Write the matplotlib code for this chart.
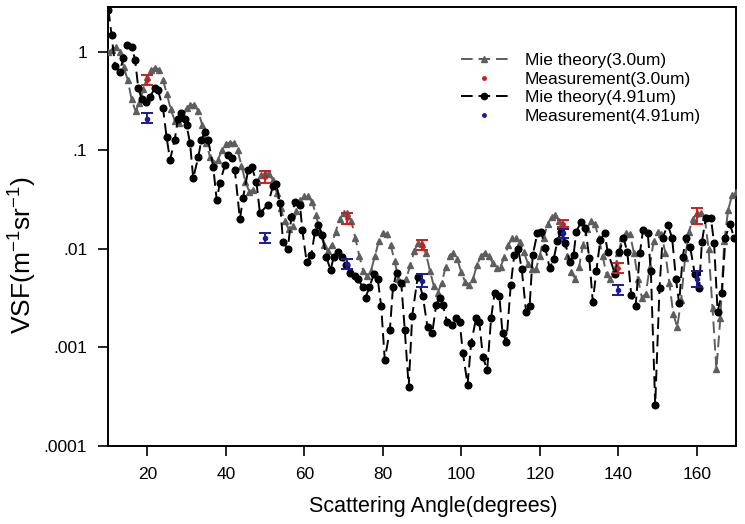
import matplotlib
matplotlib.use("Agg")
import matplotlib.pyplot as plt
from matplotlib.lines import Line2D
from matplotlib.ticker import FixedLocator, NullLocator

plt.rcParams["font.family"] = ["Liberation Sans", "DejaVu Sans"]
plt.rcParams["mathtext.fontset"] = "custom"
plt.rcParams["mathtext.rm"] = "Liberation Sans"
plt.rcParams["mathtext.default"] = "regular"

# Mie theory, 3.0 um (grey triangles)
angle_30 = list(range(10, 171))
mie_30 = [
    1.0, 1.05, 1.12, 1.0, 0.7, 0.52, 0.33, 0.25, 0.3, 0.42,
    0.55, 0.65, 0.69, 0.66, 0.52, 0.37, 0.26, 0.2, 0.19, 0.22,
    0.27, 0.29, 0.29, 0.25, 0.18, 0.12, 0.085, 0.075, 0.08, 0.1,
    0.115, 0.12, 0.118, 0.1, 0.07, 0.048, 0.038, 0.04, 0.048, 0.056,
    0.059, 0.058, 0.05, 0.037, 0.026, 0.019, 0.016, 0.017, 0.024, 0.031,
    0.034, 0.034, 0.03, 0.022, 0.015, 0.011, 0.0095, 0.011, 0.015, 0.02,
    0.023, 0.023, 0.019, 0.013, 0.0085, 0.006, 0.0053, 0.006, 0.0085, 0.012,
    0.0145, 0.014, 0.011, 0.0075, 0.005, 0.0045, 0.005, 0.0068, 0.0095, 0.0115,
    0.0112, 0.009, 0.006, 0.0042, 0.0036, 0.0045, 0.0065, 0.0085, 0.009, 0.0078,
    0.0058, 0.0046, 0.0043, 0.005, 0.0068, 0.0085, 0.0091, 0.0085, 0.0072, 0.0064,
    0.0066, 0.0082, 0.011, 0.0128, 0.013, 0.0118, 0.0092, 0.007, 0.0062, 0.0062,
    0.0085, 0.013, 0.018, 0.021, 0.022, 0.019, 0.013, 0.0085, 0.0058, 0.005,
    0.0065, 0.011, 0.016, 0.019, 0.018, 0.013, 0.0085, 0.0055, 0.0049, 0.006,
    0.009, 0.013, 0.0145, 0.014, 0.009, 0.005, 0.0032, 0.0035, 0.0065, 0.012,
    0.0148, 0.014, 0.009, 0.0045, 0.0022, 0.0016, 0.003, 0.008, 0.015, 0.02,
    0.023, 0.023, 0.021, 0.01, 0.0025, 0.0006, 0.002, 0.012, 0.025, 0.035,
    0.038,
]

# Mie theory, 4.91 um (black circles)
angle_491 = [
    10.1, 10.9, 11.8, 13.0, 13.9, 14.8, 16.0, 16.9, 17.7, 18.6,
    19.7, 20.7, 22.0, 22.7, 24.0, 24.9, 25.8, 27.0, 27.8, 28.7,
    29.6, 30.0, 30.9, 31.7, 33.0, 33.8, 34.7, 35.5, 36.8, 37.7,
    38.5, 39.8, 40.6, 41.5, 42.3, 43.6, 44.4, 45.7, 46.6, 47.8,
    48.7, 50.7, 52.0, 52.9, 53.8, 54.6, 55.8, 56.7, 57.6, 58.9,
    59.5, 60.6, 61.8, 62.7, 63.5, 64.6, 65.6, 66.7, 67.5, 68.5,
    69.7, 70.7, 71.6, 72.8, 73.6, 74.9, 75.6, 76.6, 77.7, 78.7,
    79.6, 80.5, 81.8, 82.6, 83.5, 84.7, 85.6, 86.6, 87.5, 88.9,
    90.2, 91.4, 92.6, 93.6, 94.5, 95.3, 96.4, 97.6, 98.7, 99.6,
    100.4, 101.6, 102.5, 103.8, 104.6, 105.5, 106.6, 107.6, 108.5, 109.7,
    110.5, 111.5, 112.6, 113.5, 114.5, 115.4, 116.5, 117.4, 118.2, 119.4,
    120.3, 121.4, 122.5, 123.5, 124.5, 125.3, 126.5, 127.6, 128.6, 129.3,
    130.5, 131.6, 132.6, 133.5, 134.4, 135.4, 136.5, 137.3, 139.2, 140.3,
    141.3, 142.3, 143.3, 144.4, 145.5, 146.3, 147.5, 148.3, 149.4, 150.5,
    151.3, 152.6, 153.7, 154.7, 155.5, 156.4, 157.3, 158.3, 159.5, 160.6,
    161.3, 162.3, 163.6, 164.4, 165.3, 166.4, 167.3, 168.4, 169.5,
]
mie_491 = [
    2.67, 1.49, 0.71, 0.63, 0.86, 1.18, 1.13, 0.83, 0.43, 0.33,
    0.31, 0.35, 0.43, 0.41, 0.27, 0.138, 0.08, 0.128, 0.21, 0.24,
    0.21, 0.18, 0.118, 0.052, 0.086, 0.128, 0.155, 0.128, 0.068, 0.031,
    0.047, 0.071, 0.09, 0.084, 0.063, 0.02, 0.033, 0.063, 0.068, 0.048,
    0.023, 0.028, 0.043, 0.045, 0.029, 0.0118, 0.010, 0.021, 0.030, 0.028,
    0.0155, 0.0074, 0.0087, 0.0148, 0.0175, 0.0138, 0.0083, 0.0061, 0.0083, 0.0093,
    0.0083, 0.0069, 0.0057, 0.0053, 0.0050, 0.0041, 0.0032, 0.0041, 0.0055, 0.0050,
    0.0026, 0.00075, 0.0015, 0.0041, 0.0057, 0.0045, 0.0015, 0.0004, 0.0021, 0.0052,
    0.0033, 0.0016, 0.0014, 0.0027, 0.0032, 0.0027, 0.0018, 0.0017, 0.0020, 0.0018,
    0.00088, 0.00042, 0.0011, 0.0020, 0.0018, 0.0008, 0.00059, 0.0020, 0.0036, 0.0033,
    0.0014, 0.00114, 0.0043, 0.0087, 0.010, 0.0062, 0.0023, 0.0026, 0.0087, 0.0145,
    0.015, 0.0102, 0.0064, 0.0078, 0.012, 0.015, 0.0115, 0.0074, 0.0087, 0.015,
    0.0187, 0.0163, 0.0081, 0.0029, 0.0059, 0.0123, 0.0145, 0.0093, 0.0055, 0.0093,
    0.013, 0.0093, 0.0034, 0.0026, 0.0091, 0.0155, 0.0145, 0.0059, 0.00026, 0.004,
    0.013, 0.0175, 0.013, 0.0049, 0.0028, 0.0083, 0.013, 0.0105, 0.0055, 0.004,
    0.0118, 0.0205, 0.0205, 0.0114, 0.0023, 0.0036, 0.013, 0.018, 0.013,
]

# Measurements with error bars
meas_angle = [20, 50, 71, 90, 126, 140, 160]
meas_30 = [0.52, 0.054, 0.0206, 0.011, 0.018, 0.0064, 0.022]
meas_30_lo = [0.46, 0.047, 0.018, 0.0098, 0.0168, 0.0057, 0.018]
meas_30_hi = [0.58, 0.061, 0.023, 0.0123, 0.0197, 0.0072, 0.026]
meas_491 = [0.21, 0.013, 0.0070, 0.0047, 0.0145, 0.0038, 0.0049]
meas_491_lo = [0.19, 0.0114, 0.0063, 0.0041, 0.0129, 0.0034, 0.0041]
meas_491_hi = [0.24, 0.0146, 0.0078, 0.0055, 0.0159, 0.0043, 0.0059]

y_ticks = [1, 0.1, 0.01, 0.001, 0.0001]
y_labels = ["1", ".1", ".01", ".001", ".0001"]
x_ticks = [20, 40, 60, 80, 100, 120, 140, 160]

GREY = "#5e5e5e"
RED = "#c8201e"
BLUE = "#1a1a9a"

fig = plt.figure(figsize=(7.45, 5.24), dpi=100)
ax = fig.add_axes([0.145, 0.149, 0.843, 0.838])

dash = (0, (6, 3))
ax.plot(angle_30, mie_30, color=GREY, linestyle=dash, linewidth=1.4,
        marker="^", markersize=4.5, zorder=3)
ax.errorbar(meas_angle, meas_30,
            yerr=[[m - lo for m, lo in zip(meas_30, meas_30_lo)],
                  [hi - m for m, hi in zip(meas_30, meas_30_hi)]],
            fmt="o", color=RED, markersize=2.5, capsize=4, elinewidth=1.4,
            capthick=1.4, zorder=5)
ax.plot(angle_491, mie_491, color="black", linestyle=dash, linewidth=1.4,
        marker="o", markersize=4.8, zorder=4)
ax.errorbar(meas_angle, meas_491,
            yerr=[[m - lo for m, lo in zip(meas_491, meas_491_lo)],
                  [hi - m for m, hi in zip(meas_491, meas_491_hi)]],
            fmt="o", color=BLUE, markersize=3, capsize=4, elinewidth=1.4,
            capthick=1.4, zorder=6)

ax.set_yscale("log")
ax.set_xlim(10, 170)
ax.set_ylim(0.0001, 2.86)
ax.yaxis.set_major_locator(FixedLocator(y_ticks))
ax.yaxis.set_minor_locator(NullLocator())
ax.set_yticklabels(y_labels)
ax.set_xticks(x_ticks)
ax.tick_params(axis="both", direction="out", length=7, width=1.2, labelsize=12.5, pad=8)
for spine in ax.spines.values():
    spine.set_linewidth(1.4)

ax.set_xlabel("Scattering Angle(degrees)", fontsize=15.5)
ax.xaxis.set_label_coords(0.518, -0.115)
ax.set_ylabel("VSF(m$^{-1}$sr$^{-1}$)", fontsize=19)
ax.yaxis.set_label_coords(-0.11, 0.433)

legend_handles = [
    Line2D([], [], color=GREY, linestyle=dash, linewidth=1.4, marker="^", markersize=4.5),
    Line2D([], [], color=RED, linestyle="none", marker="o", markersize=2.5),
    Line2D([], [], color="black", linestyle=dash, linewidth=1.4, marker="o", markersize=4.5),
    Line2D([], [], color=BLUE, linestyle="none", marker="o", markersize=2.5),
]
legend_labels = ["Mie theory(3.0um)", "Measurement(3.0um)",
                 "Mie theory(4.91um)", "Measurement(4.91um)"]
ax.legend(legend_handles, legend_labels, loc="upper left",
          bbox_to_anchor=(0.548, 0.915), frameon=False, fontsize=12.5,
          handlelength=2.7, labelspacing=0.2, handletextpad=1.0, borderpad=0)

fig.savefig("out.png", dpi=100)
